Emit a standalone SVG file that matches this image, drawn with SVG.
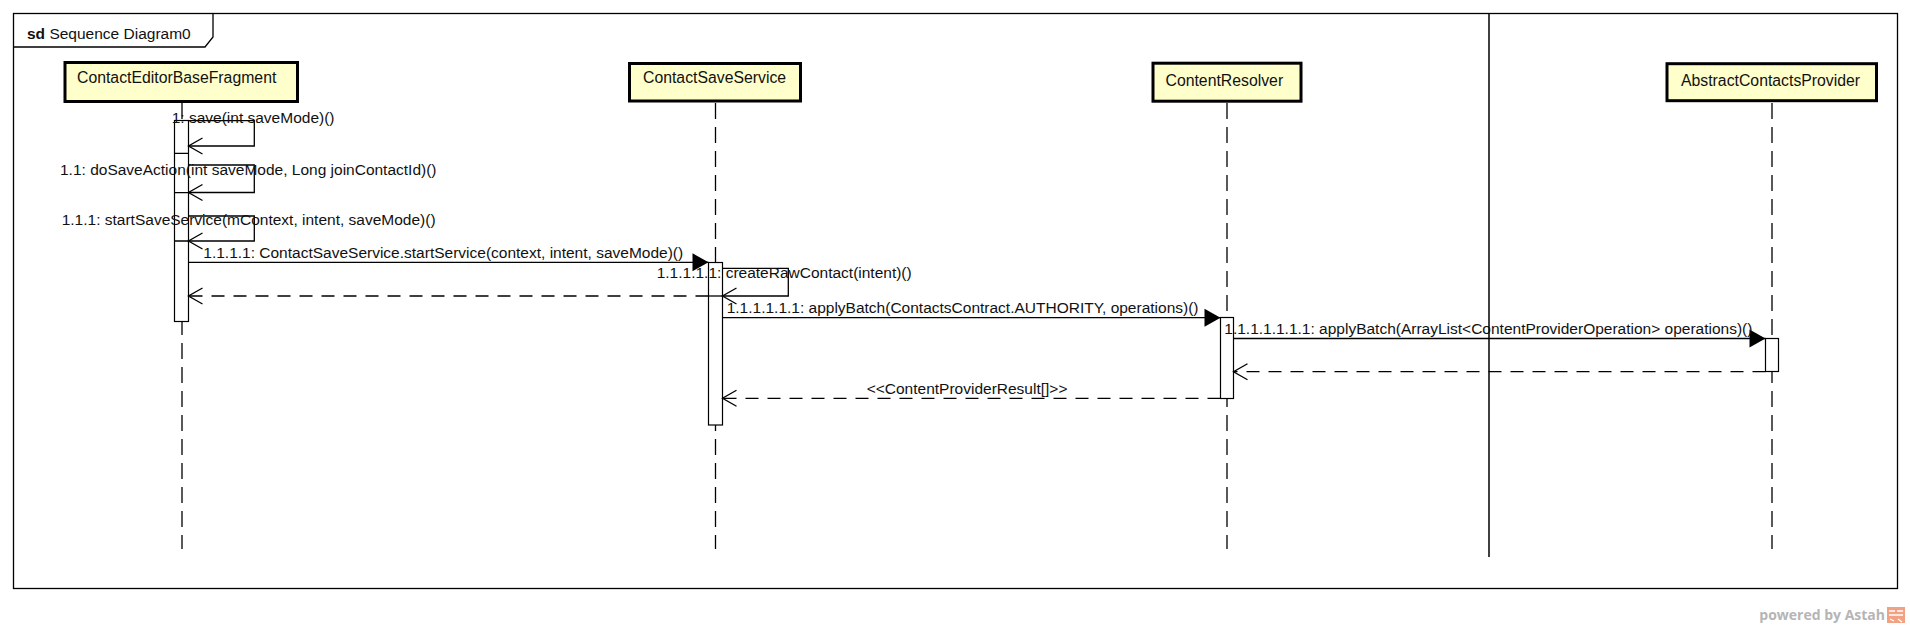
<svg xmlns="http://www.w3.org/2000/svg" width="1910" height="629" viewBox="0 0 1910 629">
<style>
text{font-family:"Liberation Sans",Arial,sans-serif;fill:#111}
.msg{font-size:15.5px}
.nm{font-size:15.8px}
.box{fill:#ffffcc;stroke:#000;stroke-width:3}
.life{stroke:#000;stroke-width:1.3;stroke-dasharray:16 8;fill:none}
.act{fill:#fff;stroke:#000;stroke-width:1.2}
.call{stroke:#000;stroke-width:1.3;fill:none}
.ret{stroke:#000;stroke-width:1.3;fill:none;stroke-dasharray:13 9}
.frame{fill:none;stroke:#000;stroke-width:1.3}
</style>
<defs>
<marker id="open" viewBox="-16 -10 18 20" refX="0" refY="0" markerWidth="18" markerHeight="20" markerUnits="userSpaceOnUse" orient="auto">
<path d="M-14,-8 L0,0 L-14,8" fill="none" stroke="#000" stroke-width="1.3" stroke-dasharray="none"/>
</marker>
<marker id="fill" viewBox="-18 -10 20 20" refX="0" refY="0" markerWidth="20" markerHeight="20" markerUnits="userSpaceOnUse" orient="auto">
<path d="M0,0 L-16,-9 L-16,9 Z" fill="#000" stroke="none"/>
</marker>
</defs>
<rect width="1910" height="629" fill="#fff"/>
<g id="frame">
<rect class="frame" x="13.5" y="13.5" width="1884" height="575"/>
<path class="frame" d="M13.5,47 H205 L213,37 V13.5"/>
<text x="27" y="39" style="font-size:15.5px"><tspan font-weight="bold">sd</tspan> Sequence Diagram0</text>
<line x1="1489" y1="13.5" x2="1489" y2="557" stroke="#000" stroke-width="1.5"/>
</g>
<g id="node-ContactEditorBaseFragment">
<line class="life" x1="182" y1="103" x2="182" y2="549"/>
<rect class="box" x="65" y="62.5" width="232.5" height="39"/>
<text class="nm" x="77" y="82.5">ContactEditorBaseFragment</text>
<rect class="act" x="174.5" y="120.5" width="14" height="201"/>
<path class="call" d="M174.5,153.3 H188.5 M174.5,192.7 H188.5 M174.5,241 H188.5"/>
</g>
<g id="node-ContactSaveService">
<line class="life" x1="715.5" y1="103" x2="715.5" y2="549"/>
<rect class="box" x="629.5" y="63.5" width="171" height="37.5"/>
<text class="nm" x="643" y="82.5">ContactSaveService</text>
<rect class="act" x="708.5" y="262.5" width="14" height="162.5"/>
<path class="call" d="M708.5,296 H722.5"/>
</g>
<g id="node-ContentResolver">
<line class="life" x1="1227" y1="103" x2="1227" y2="549"/>
<rect class="box" x="1153" y="63.2" width="148" height="38"/>
<text class="nm" x="1165.5" y="86">ContentResolver</text>
<rect class="act" x="1220.5" y="317.5" width="13" height="81"/>
</g>
<g id="node-AbstractContactsProvider">
<line class="life" x1="1772" y1="103" x2="1772" y2="549"/>
<rect class="box" x="1667" y="63.7" width="209.5" height="37"/>
<text class="nm" x="1681" y="86">AbstractContactsProvider</text>
<rect class="act" x="1765.5" y="338.5" width="13" height="33"/>
</g>
<g id="connectors">
<path class="call" d="M188.5,120.7 H254.3 V146 H188.5" marker-end="url(#open)"/>
<path class="call" d="M188.5,165 H254.3 V192.5 H188.5" marker-end="url(#open)"/>
<path class="call" d="M188.5,216 H254.3 V241 H188.5" marker-end="url(#open)"/>
<path class="call" d="M188.5,262.3 H708.5" marker-end="url(#fill)"/>
<path class="ret" d="M708.5,296 H188.5" marker-end="url(#open)"/>
<path class="call" d="M722.5,268.3 H788.3 V296 H722.5" marker-end="url(#open)"/>
<path class="call" d="M722.5,317.7 H1220.5" marker-end="url(#fill)"/>
<path class="call" d="M1233.5,338.5 H1765.5" marker-end="url(#fill)"/>
<path class="ret" d="M1765.5,371.7 H1233.5" marker-end="url(#open)"/>
<path class="ret" d="M1220.5,398.3 H722.5" marker-end="url(#open)"/>
<text class="msg" x="171.7" y="122.5">1: save(int saveMode)()</text>
<text class="msg" x="60" y="174.5">1.1: doSaveAction(int saveMode, Long joinContactId)()</text>
<text class="msg" x="61.7" y="224.5">1.1.1: startSaveService(mContext, intent, saveMode)()</text>
<text class="msg" x="203.3" y="258">1.1.1.1: ContactSaveService.startService(context, intent, saveMode)()</text>
<text class="msg" x="656.7" y="278">1.1.1.1.1: createRawContact(intent)()</text>
<text class="msg" x="726.7" y="313">1.1.1.1.1.1: applyBatch(ContactsContract.AUTHORITY, operations)()</text>
<text class="msg" x="1224.3" y="334">1.1.1.1.1.1.1: applyBatch(ArrayList&lt;ContentProviderOperation&gt; operations)()</text>
<text class="msg" x="866.7" y="394">&lt;&lt;ContentProviderResult[]&gt;&gt;</text>
</g>
<g id="watermark">
<text x="1885" y="620" text-anchor="end" style="font-family:'Open Sans',sans-serif;font-size:14px;font-weight:bold;fill:#b5b5b5">powered by Astah</text>
<rect x="1887" y="607" width="18" height="16" fill="#f2a283"/>
<path d="M1889,611 H1895 M1897,611 H1903 M1889,615 H1903 M1890,619 L1894,621 M1898,619 L1902,622" stroke="#fff" stroke-width="1.3" fill="none"/>
</g>
</svg>
